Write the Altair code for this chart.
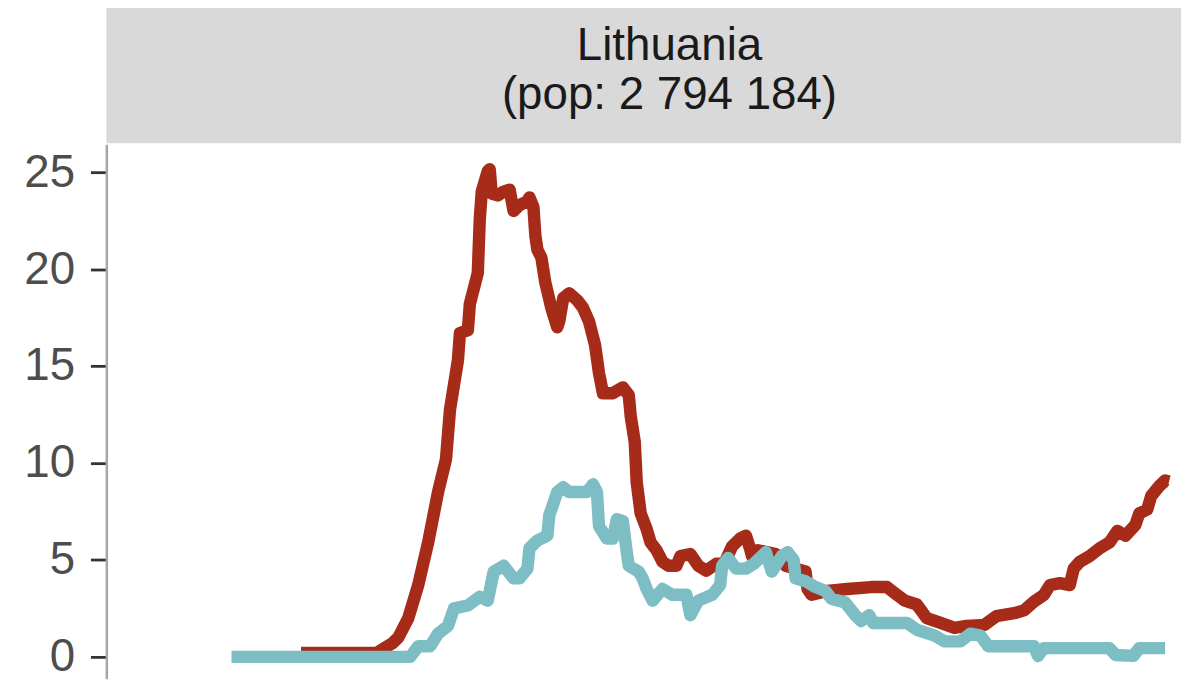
import altair as alt
import pandas as pd

# ---- data (day index, value) ----
red_day = [98, 136, 140, 144, 147, 152, 157, 162, 167, 171, 173, 177, 178, 182, 183, 187, 188, 189,
           192, 193, 194, 197, 200, 203, 205, 208, 212, 213, 215, 216, 217, 219, 221, 224, 227, 228,
           230, 233, 237, 240, 243, 246, 248, 250, 255, 260, 263, 264, 266, 267, 269, 272, 274, 277,
           280, 283, 287, 289, 294, 298, 302, 307, 311, 315, 319, 322, 324, 325, 328, 337, 342, 347,
           352, 353, 355, 363, 373, 385, 393, 398, 402, 408, 413, 420, 427, 433, 442, 448, 457, 462,
           467, 472, 475, 480, 485, 487, 490, 495, 500, 505, 509, 513, 518, 520, 524, 526, 530, 533, 535]
red_val = [0.2, 0.2, 0.45, 0.7, 1.0, 2.0, 3.7, 5.9, 8.5, 10.2, 12.75, 15.3, 16.7, 16.85, 18.2, 19.8,
           22.6, 24.0, 25.05, 25.15, 23.9, 23.8, 24.0, 24.1, 23.0, 23.3, 23.5, 23.7, 23.2, 21.7, 21.0,
           20.6, 19.3, 18.0, 17.0, 17.3, 18.5, 18.75, 18.4, 18.0, 17.3, 16.1, 14.65, 13.6, 13.6, 13.9,
           13.5, 12.4, 11.1, 9.0, 7.4, 6.6, 5.9, 5.5, 4.9, 4.7, 4.7, 5.2, 5.3, 4.7, 4.45, 4.8, 4.8,
           5.7, 6.1, 6.25, 5.6, 5.2, 5.5, 5.3, 4.7, 4.55, 4.4, 3.5, 3.2, 3.4, 3.5, 3.6, 3.6, 3.2, 2.9,
           2.7, 2.0, 1.75, 1.5, 1.6, 1.65, 2.1, 2.25, 2.4, 2.85, 3.2, 3.7, 3.8, 3.7, 4.55, 4.9, 5.2,
           5.6, 5.9, 6.5, 6.25, 6.8, 7.4, 7.6, 8.3, 8.8, 9.1, 9.05]

teal_day = [63, 153, 157, 163, 167, 172, 175, 182, 188, 192, 195, 200, 205, 208, 212, 213, 217, 222,
            223, 227, 230, 233, 242, 245, 247, 248, 252, 255, 257, 260, 262, 263, 268, 270, 272, 275,
            280, 285, 292, 294, 298, 305, 309, 310, 313, 317, 322, 326, 332, 335, 340, 343, 346, 347,
            352, 357, 362, 365, 372, 377, 380, 384, 386, 403, 408, 417, 422, 430, 435, 440, 444, 467,
            469, 472, 505, 508, 517, 520, 533]
teal_val = [0, 0, 0.55, 0.55, 1.2, 1.6, 2.5, 2.65, 3.1, 2.9, 4.4, 4.7, 4.05, 4.05, 4.55, 5.6, 6.0,
            6.25, 7.3, 8.5, 8.75, 8.5, 8.5, 8.9, 8.5, 6.75, 6.1, 6.1, 7.1, 7.0, 5.4, 4.7, 4.4, 4.05,
            3.5, 2.9, 3.5, 3.2, 3.2, 2.15, 2.9, 3.2, 3.7, 4.7, 5.1, 4.55, 4.55, 4.8, 5.4, 4.4, 5.2,
            5.4, 5.0, 4.05, 3.9, 3.6, 3.4, 3.0, 2.8, 2.15, 1.85, 2.15, 1.75, 1.75, 1.4, 1.1, 0.8, 0.8,
            1.2, 1.1, 0.55, 0.55, 0.05, 0.45, 0.45, 0.1, 0.05, 0.45, 0.45]

header_lines = ["Lithuania", "(pop: 2 794 184)"]
y_ticks = [0, 5, 10, 15, 20, 25]

red_df = pd.DataFrame({"day": red_day, "value": red_val})
teal_df = pd.DataFrame({"day": teal_day, "value": teal_val})

W, H = 1082, 538
FONT = "Liberation Sans"

x_enc = alt.X("day:Q", axis=None, scale=alt.Scale(domain=[0, 541], nice=False, zero=False))
y_enc = alt.Y(
    "value:Q",
    scale=alt.Scale(domain=[-1.127, 26.434], nice=False, zero=False),
    axis=alt.Axis(
        values=y_ticks, title=None, grid=False,
        domainColor="#A6A6A6", domainWidth=2.5,
        tickColor="#333333", tickWidth=2.8, tickSize=16,
        labelFontSize=46, labelColor="#4D4D4D", labelFont=FONT, labelPadding=16,
    ),
)

strip = alt.Chart(pd.DataFrame({"a": [0]})).mark_rect(color="#D9D9D9").encode(
    x=alt.value(0), x2=alt.value(W + 10), y=alt.value(-138), y2=alt.value(-1)
)
line1 = alt.Chart(pd.DataFrame({"t": [header_lines[0]]})).mark_text(
    fontSize=46, font=FONT, color="#1A1A1A", align="center", baseline="alphabetic"
).encode(text="t:N", x=alt.value(567), y=alt.value(-85))
line2 = alt.Chart(pd.DataFrame({"t": [header_lines[1]]})).mark_text(
    fontSize=46, font=FONT, color="#1A1A1A", align="center", baseline="alphabetic"
).encode(text="t:N", x=alt.value(567), y=alt.value(-36))

red = alt.Chart(red_df).mark_line(color="#A62B18", strokeWidth=12.5, strokeJoin="round").encode(
    x=x_enc, y=y_enc
)
teal = alt.Chart(teal_df).mark_line(color="#7DBDC4", strokeWidth=12.5, strokeJoin="round").encode(
    x=x_enc, y=y_enc
)

chart = alt.layer(strip, line1, line2, red, teal).properties(
    width=W, height=H,
    autosize="none",
    padding={"left": 99, "top": 135, "right": 0, "bottom": 0},
).configure_view(stroke=None)

chart.save("out.html", embed_options={"renderer": "svg", "actions": False})
